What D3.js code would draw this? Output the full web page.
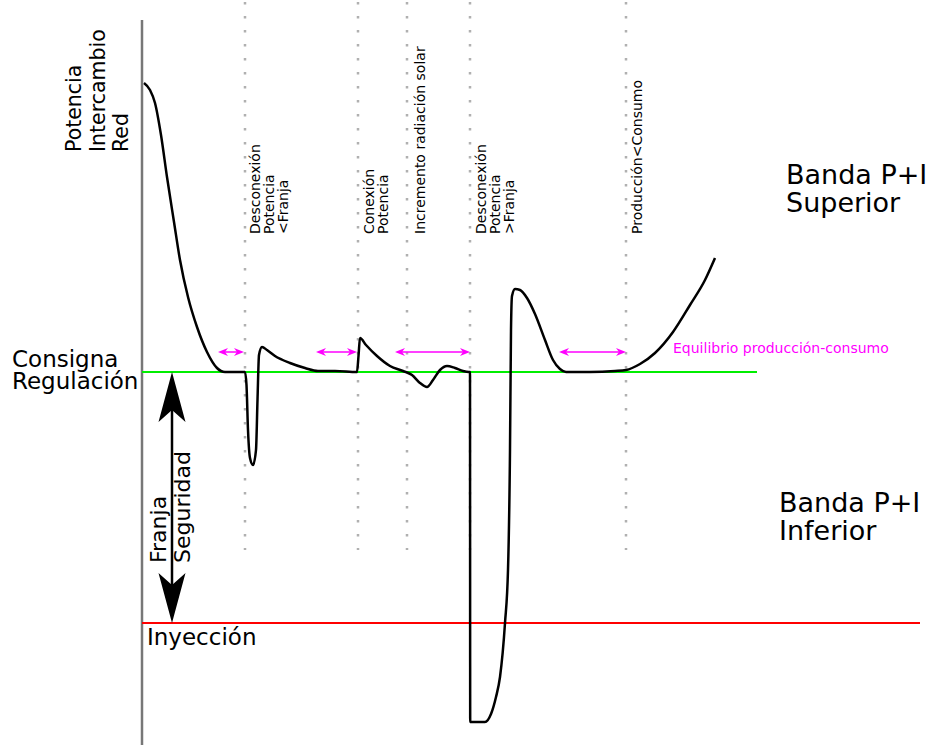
<!DOCTYPE html>
<html>
<head>
<meta charset="utf-8">
<script src="https://cdn.jsdelivr.net/npm/d3@7"></script>
<style>
  body { margin: 0; background: #fff; }
  text { font-family: "DejaVu Sans", sans-serif; }
</style>
</head>
<body>
<div id="chart"></div>
<script>
// power exchanged with the grid over time (t in time units, p in power units, 0 = consigna)
var curveT = [0.2, 0.8, 1.3, 1.9, 2.5, 3.2, 3.8, 4.6, 5.5, 6.5, 7.5, 8.3, 10.3,
  10.45, 10.6, 10.8, 11.1, 11.4, 11.55, 11.7, 12.0, 12.5, 13.3, 14.8, 16.3, 17.6, 19.3, 21.5,
  21.65, 21.8, 22.4, 23.5, 24.8, 26.1, 27.0, 27.8, 28.5, 29.1, 29.8, 30.5, 31.3, 32.1, 32.7,
  32.8, 32.82, 34.3, 34.9, 35.4, 35.8, 36.3, 36.6, 36.8, 36.9, 37.0, 37.3, 37.8, 38.5, 39.3,
  40.3, 41.1, 41.8, 42.4, 44.8, 47.3, 48.4, 49.8, 51.3, 53.1, 54.8, 56.3, 57.3];
var curveP = [28.9, 28.2, 26.9, 23.7, 19.5, 15.0, 11.2, 7.5, 4.5, 2.0, 0.4, 0, 0,
  -1.3, -5.8, -8.6, -9.3, -7.8, -2.8, 1.7, 2.5, 2.2, 1.6, 0.9, 0.4, 0.1, 0.1, 0,
  1.6, 3.4, 2.7, 1.6, 0.6, 0.1, -0.3, -1.1, -1.5, -0.8, 0.2, 0.6, 0.4, 0.1, 0,
  0, -35.0, -35.0, -34.2, -32.5, -30.5, -25.1, -19.8, -7.8, 4.2, 7.6, 8.3, 8.2, 7.4, 5.8,
  3.2, 1.2, 0.3, 0, 0, 0.1, 0.2, 0.8, 1.9, 4.0, 6.7, 9.2, 11.4];

// events (dotted vertical lines) and their labels
var eventT = [10.3, 21.6, 26.5, 32.8, 48.4];
var eventLabels = [
  ["Desconexión", "Potencia", "<Franja"],
  ["Conexión", "Potencia"],
  ["Incremento radiación solar"],
  ["Desconexión", "Potencia", ">Franja"],
  ["Producción<Consumo"]
];

// magenta "equilibrium" intervals
var eqStart = [7.6, 17.4, 25.3, 41.7];
var eqEnd = [10.2, 21.5, 32.8, 48.4];
var eqLevel = 2.0;

// reference levels
var consigna = 0;
var inyeccion = -25.1;
var consignaEnd = 61.5;
var safetyT = 3.0;

var width = 933, height = 747;

var x = d3.scaleLinear().domain([0, 77.8]).range([142, 920]);
var y = d3.scaleLinear().domain([-37.3, 35.2]).range([745, 20]);

var svg = d3.select("#chart").append("svg")
  .attr("width", width)
  .attr("height", height);

svg.append("rect").attr("width", width).attr("height", height).attr("fill", "#fff");

// dotted event lines
svg.selectAll(".event")
  .data(eventT)
  .enter().append("line")
  .attr("x1", function(d) { return x(d); })
  .attr("x2", function(d) { return x(d); })
  .attr("y1", y(37.0))
  .attr("y2", y(-17.8))
  .attr("stroke", "#b0b0b0")
  .attr("stroke-width", 2.5)
  .attr("stroke-dasharray", "2.5,11.5");

// event labels (rotated)
var labelDx = [15, 15.5, 18, 16, 16];
eventLabels.forEach(function(lines, i) {
  var g = svg.append("text")
    .attr("transform", "translate(" + (x(eventT[i]) + labelDx[i]) + "," + y(13.8) + ") rotate(-90)")
    .attr("font-size", 14)
    .attr("fill", "#000");
  lines.forEach(function(s, j) {
    g.append("tspan").attr("x", 0).attr("y", j * 14).text(s);
  });
});

// y axis
svg.append("line")
  .attr("x1", x(0)).attr("x2", x(0))
  .attr("y1", y(35.2)).attr("y2", y(-37.3))
  .attr("stroke", "#777")
  .attr("stroke-width", 2.5);

// consigna line (green) and inyección line (red)
svg.append("line")
  .attr("x1", x(0)).attr("x2", x(consignaEnd))
  .attr("y1", y(consigna)).attr("y2", y(consigna))
  .attr("stroke", "#00ee00").attr("stroke-width", 2.2);

svg.append("line")
  .attr("x1", x(0)).attr("x2", x(77.8))
  .attr("y1", y(inyeccion)).attr("y2", y(inyeccion))
  .attr("stroke", "#ff0000").attr("stroke-width", 2.2);

// magenta double arrows
function magArrow(x0, x1, yy) {
  var h = 10, w = 4;
  svg.append("line")
    .attr("x1", x0 + 3).attr("x2", x1 - 3)
    .attr("y1", yy).attr("y2", yy)
    .attr("stroke", "#ff00ff").attr("stroke-width", 1.5);
  svg.append("path")
    .attr("d", "M" + x0 + "," + yy + "L" + (x0 + h) + "," + (yy - w) + "L" + (x0 + h * 0.7) + "," + yy + "L" + (x0 + h) + "," + (yy + w) + "Z" +
               "M" + x1 + "," + yy + "L" + (x1 - h) + "," + (yy - w) + "L" + (x1 - h * 0.7) + "," + yy + "L" + (x1 - h) + "," + (yy + w) + "Z")
    .attr("fill", "#ff00ff");
}
eqStart.forEach(function(s, i) { magArrow(x(s), x(eqEnd[i]), y(eqLevel)); });

svg.append("text")
  .attr("x", 673).attr("y", 352.5)
  .attr("font-size", 14)
  .attr("fill", "#ff00ff")
  .text("Equilibrio producción-consumo");

// the power curve
var pts = curveT.map(function(t, i) { return [t, curveP[i]]; });
var line = d3.line()
  .x(function(d) { return x(d[0]); })
  .y(function(d) { return y(d[1]); })
  .curve(d3.curveMonotoneX);

svg.append("path")
  .datum(pts)
  .attr("d", line)
  .attr("fill", "none")
  .attr("stroke", "#000")
  .attr("stroke-width", 2.5)
  .attr("stroke-linejoin", "round");

// franja de seguridad: big black double arrow
var ax = x(safetyT), aTop = y(consigna), aBot = y(inyeccion);
svg.append("line")
  .attr("x1", ax).attr("x2", ax)
  .attr("y1", aTop + 20).attr("y2", aBot - 20)
  .attr("stroke", "#000").attr("stroke-width", 2.5);
svg.append("path")
  .attr("d", "M" + ax + "," + aTop + "L" + (ax + 13.5) + "," + (aTop + 50) + "L" + ax + "," + (aTop + 38) + "L" + (ax - 13.5) + "," + (aTop + 50) + "Z" +
             "M" + ax + "," + aBot + "L" + (ax + 13.5) + "," + (aBot - 50) + "L" + ax + "," + (aBot - 38) + "L" + (ax - 13.5) + "," + (aBot - 50) + "Z")
  .attr("fill", "#000");

svg.append("text")
  .attr("transform", "translate(0," + 563 + ") rotate(-90)")
  .attr("font-size", 22)
  .selectAll("tspan")
  .data(["Franja", "Seguridad"])
  .enter().append("tspan")
  .attr("x", 0)
  .attr("y", function(d, i) { return 166 + i * 24; })
  .text(function(d) { return d; });

// axis title
svg.append("text")
  .attr("transform", "translate(0,152) rotate(-90)")
  .attr("font-size", 20.5)
  .selectAll("tspan")
  .data(["Potencia", "Intercambio", "Red"])
  .enter().append("tspan")
  .attr("x", 0)
  .attr("y", function(d, i) { return 81 + i * 23.5; })
  .text(function(d) { return d; });

// level labels
svg.append("text")
  .attr("x", 12).attr("y", 367)
  .attr("font-size", 23)
  .text("Consigna");
svg.append("text")
  .attr("x", 12).attr("y", 389)
  .attr("font-size", 23)
  .text("Regulación");

svg.append("text")
  .attr("x", 147).attr("y", 645)
  .attr("font-size", 23)
  .text("Inyección");

svg.append("text")
  .attr("font-size", 27)
  .selectAll("tspan")
  .data(["Banda P+I", "Superior"])
  .enter().append("tspan")
  .attr("x", 786)
  .attr("y", function(d, i) { return 184 + i * 28; })
  .text(function(d) { return d; });

svg.append("text")
  .attr("font-size", 27)
  .selectAll("tspan")
  .data(["Banda P+I", "Inferior"])
  .enter().append("tspan")
  .attr("x", 779)
  .attr("y", function(d, i) { return 512 + i * 28; })
  .text(function(d) { return d; });
</script>
</body>
</html>
